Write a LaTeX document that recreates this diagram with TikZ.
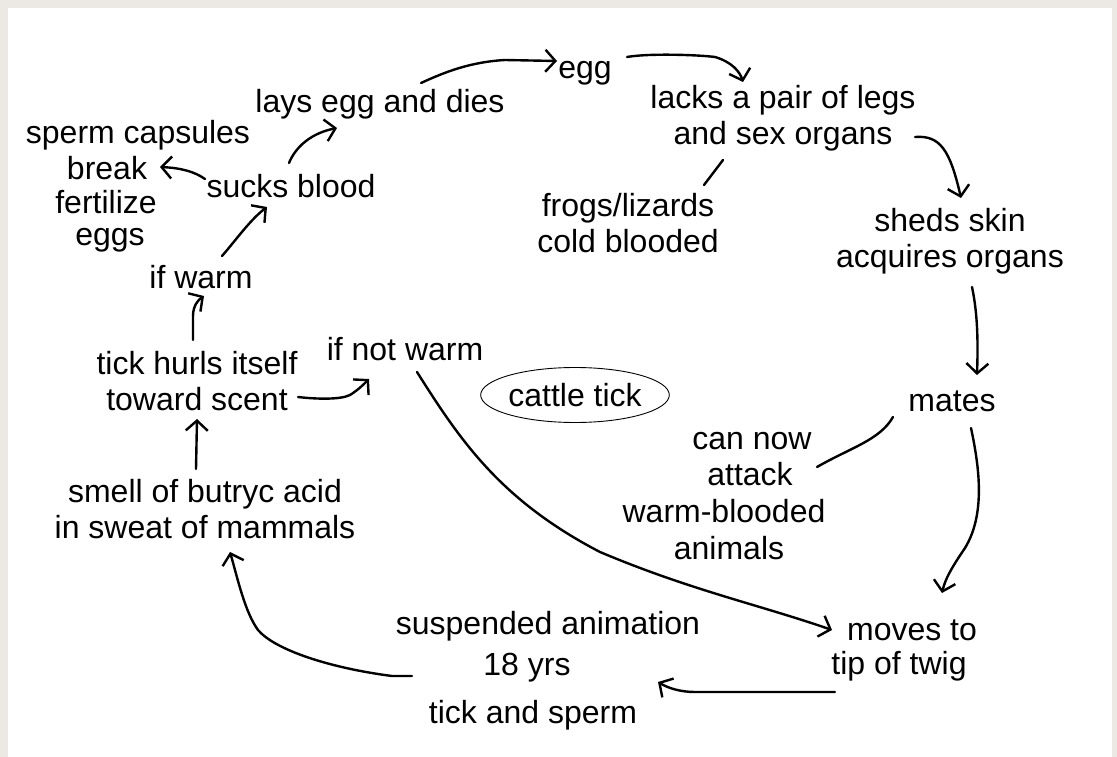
\documentclass[tikz,border=0pt]{standalone}
\usepackage{fontspec}
\setmainfont{Liberation Sans}
\usetikzlibrary{arrows.meta,calc,shapes.geometric}
\definecolor{bordergray}{HTML}{ECE9E5}
\tikzset{
  lbl/.style={inner sep=0pt,align=center,font=\fontsize{32}{36}\selectfont},
  arr/.style={line width=2.4pt,line cap=round,line join=round,-{Straight Barb[length=10pt,width=22pt,line width=2.4pt]}},
  lnk/.style={line width=2.4pt,line cap=round,line join=round},
  oval/.style={draw,ellipse,line width=0.9pt,minimum width=148pt,minimum height=55pt,inner sep=0pt,font=\fontsize{32}{36}\selectfont}
}
\begin{document}
\begin{tikzpicture}[x=1pt,y=-1pt]
\fill[bordergray] (0,0) rectangle (1117,757);
\fill[white] (8,8) rectangle (1112,757);
\useasboundingbox (0,0) rectangle (1117,757);

% nodes
\node[lbl] (egg) at (585,73) {egg};
\node[lbl] (lays) at (380,104) {lays egg and dies};
\node[lbl] (sperm) at (138,135) {sperm capsules};
\node[lbl] (brk) at (107,168) {break};
\node[lbl] (fert) at (106,202) {fertilize};
\node[lbl] (eggs) at (110,240) {eggs};
\node[lbl] (sucks) at (291,186) {sucks blood};
\node[lbl] (ifwarm) at (201,277) {if warm};
\node[lbl] (hurls) at (197,381) {tick hurls itself\\toward scent};
\node[lbl] (ifnot) at (405,349) {if not warm};
\node[oval] (cattle) at (575,395) {cattle tick};
\node[lbl] (lacks) at (783,118) {lacks a pair of legs\\and sex organs};
\node[lbl] (frogs) at (628,223) {frogs/lizards\\cold blooded};
\node[lbl] (sheds) at (950,241) {sheds skin\\acquires organs};
\node[lbl] (mates) at (952,401) {mates};
\node[lbl] (cn1) at (752,441) {can now};
\node[lbl] (cn2) at (750,474) {attack};
\node[lbl] (cn3) at (724,511) {warm-blooded};
\node[lbl] (cn4) at (729,548) {animals};
\node[lbl] (smell) at (205,509) {smell of butryc acid\\in sweat of mammals};
\node[lbl] (susp) at (548,626) {suspended animation};
\node[lbl] (yrs) at (527,668) {18 yrs};
\node[lbl] (tsp) at (533,715) {tick and sperm};
\node[lbl] (moves) at (912,650) {moves to\\[-2pt]\hspace*{-26pt}tip of twig};

% connectors
\draw[arr] ($(sucks)+(-2,-23)$) .. controls (296,146) and (312,133) .. ($(lays)+(-43,24)$);
\draw[arr] ($(sucks)+(-86,-7)$) .. controls (195,172) and (182,168) .. ($(brk)+(53,-1)$);
\draw[arr] ($(ifwarm)+(21,-21)$) .. controls (236,240) and (250,220) .. ($(sucks)+(-24,21)$);
\draw[arr] ($(hurls)+(-4,-41)$) -- (193,316) .. controls (193,306) and (198,300) .. ($(ifwarm)+(3,19)$);
\draw[arr] ($(hurls)+(101,16)$) .. controls (315,399) and (340,400) .. (350,395) .. controls (358,390) and (363,385) .. ($(ifnot)+(-36,30)$);
\draw[arr] ($(smell)+(-9,-40)$) -- ($(hurls)+(0,38)$);
\draw[arr] ($(yrs)+(-115,8)$) -- (392,676) .. controls (330,668) and (275,650) .. (258,630) .. controls (245,612) and (238,580) .. ($(smell)+(25,43)$);
\draw[arr] ($(moves)+(-77,42)$) -- (695,692) .. controls (680,692) and (668,688) .. ($(yrs)+(131,14)$);
\draw[arr] ($(ifnot)+(12,23)$) .. controls (460,440) and (500,500) .. (600,552) .. controls (690,590) and (760,605) .. ($(moves)+(-80,-20)$);
\draw[arr] ($(mates)+(19,27)$) .. controls (980,470) and (985,515) .. (965,548) .. controls (950,570) and (945,580) .. ($(moves)+(30,-57)$);
\draw[lnk] ($(mates)+(-59,16)$) .. controls (880,440) and (850,448) .. ($(cn2)+(67,-7)$);
\draw[arr] ($(sheds)+(22,46)$) .. controls (978,315) and (978,345) .. ($(mates)+(25,-26)$);
\draw[arr] ($(lacks)+(132,19)$) .. controls (940,135) and (950,150) .. ($(sheds)+(11,-43)$);
\draw[lnk] ($(lacks)+(-60,42)$) -- ($(frogs)+(76,-38)$);
\draw[arr] ($(egg)+(42,-16)$) .. controls (650,53) and (700,55) .. (715,57) .. controls (732,62) and (740,72) .. ($(lacks)+(-40,-36)$);
\draw[arr] ($(lays)+(41,-21)$) .. controls (445,72) and (470,62) .. (505,60) -- ($(egg)+(-28,-12)$);
\end{tikzpicture}
\end{document}
